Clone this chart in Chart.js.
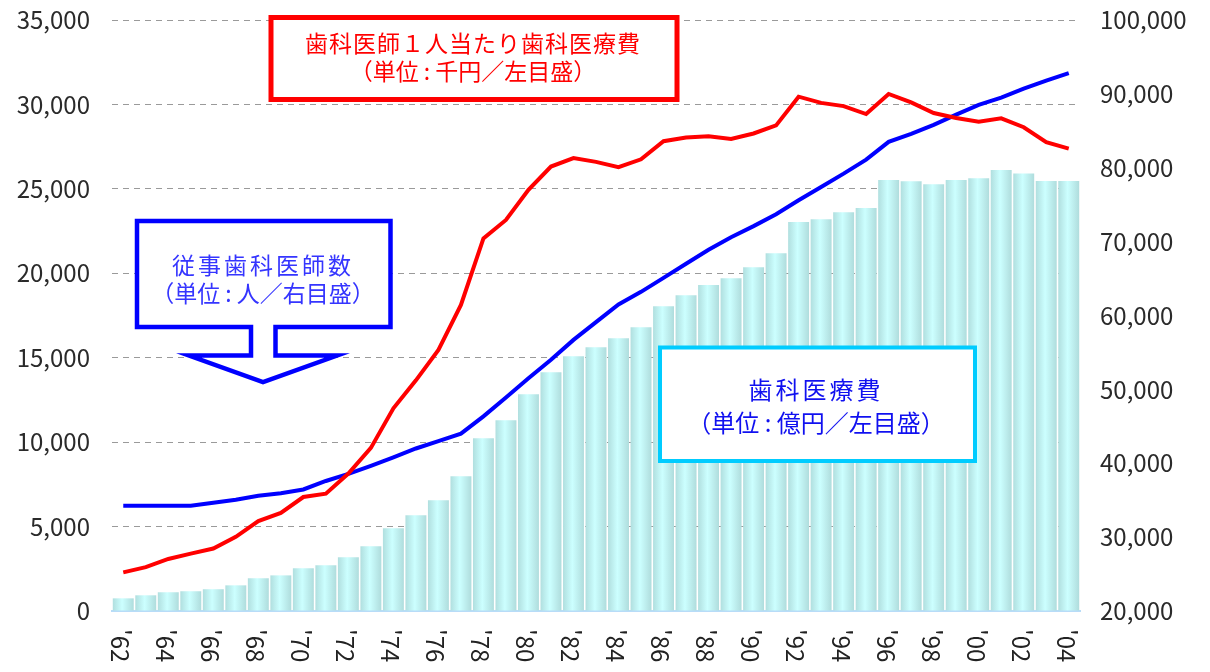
<!DOCTYPE html>
<html lang="ja">
<head>
<meta charset="utf-8">
<title>歯科医療費と従事歯科医師数</title>
<script src="https://cdn.jsdelivr.net/npm/chart.js@4.4.1/dist/chart.umd.min.js"></script>
<style>
    html, body { margin: 0; padding: 0; background: #fff; }
    #wrap { position: relative; width: 1210px; height: 672px; }
</style>
</head>
<body>
<div id="wrap"><canvas id="dentalChart"></canvas></div>
<script>
// --- Data ---
const years = [
    "'62", "'63", "'64", "'65", "'66", "'67", "'68", "'69",
    "'70", "'71", "'72", "'73", "'74", "'75", "'76", "'77", "'78", "'79",
    "'80", "'81", "'82", "'83", "'84", "'85", "'86", "'87", "'88", "'89",
    "'90", "'91", "'92", "'93", "'94", "'95", "'96", "'97", "'98", "'99",
    "'00", "'01", "'02", "'03", "'04"
];

// 歯科医療費 (億円, left axis)
const dentalCost = [
    750, 930, 1110, 1170, 1290, 1520, 1940, 2110,
    2530, 2710, 3180, 3830, 4900, 5670, 6560, 7980, 10230, 11300,
    12840, 14140, 15090, 15620, 16160, 16810, 18050, 18700, 19300, 19710,
    20360, 21190, 23030, 23200, 23620, 23860, 25520, 25450, 25280, 25520,
    25630, 26110, 25910, 25470, 25470
];

// 歯科医師1人当たり歯科医療費 (千円, left axis)
const costPerDentist = [
    2290, 2600, 3080, 3400, 3700, 4390, 5330, 5810,
    6750, 6950, 8140, 9660, 12000, 13660, 15460, 18130, 22070, 23160,
    24940, 26320, 26820, 26600, 26290, 26750, 27820, 28040, 28120, 27950,
    28280, 28760, 30460, 30090, 29900, 29430, 30620, 30120, 29490, 29200,
    28980, 29180, 28650, 27760, 27380
];

// 従事歯科医師数 (人, right axis)
const dentists = [
    34250, 34250, 34250, 34250, 34650, 35050, 35600, 35950,
    36450, 37600, 38550, 39650, 40800, 42000, 43000, 44000, 46350, 48900,
    51500, 54000, 56700, 59100, 61500, 63200, 65100, 67000, 68900, 70600,
    72100, 73700, 75600, 77400, 79200, 81100, 83500, 84600, 85800, 87200,
    88500, 89500, 90700, 91800, 92800
];

const leftTicks = [0, 5000, 10000, 15000, 20000, 25000, 30000, 35000];
const rightTicks = [20000, 30000, 40000, 50000, 60000, 70000, 80000, 90000, 100000];

const redNote = ["歯科医師１人当たり歯科医療費", "（単位 : 千円／左目盛）"];
const blueNote = ["従事歯科医師数", "（単位 : 人／右目盛）"];
const cyanNote = ["歯科医療費", "（単位 : 億円／左目盛）"];

const JP_FONT = '"Noto Sans CJK JP", "Noto Sans", sans-serif';

// --- Helpers ---
function fmt(v) {
    return v.toLocaleString("en-US");
}

// horizontal cyan sheen across each bar
function barFill(c) {
    const chart = c.chart;
    const xs = chart.scales.x;
    if (!xs || c.dataIndex === undefined || !chart.chartArea) return "#c2eeee";
    const cx = xs.getPixelForValue(c.dataIndex);
    const w = xs.width / years.length;
    const g = chart.ctx.createLinearGradient(cx - w / 2, 0, cx + w / 2, 0);
    g.addColorStop(0, "#aedcdc");
    g.addColorStop(0.45, "#ccffff");
    g.addColorStop(1, "#addada");
    return g;
}

function centerText(ctx, lines, cx, ys, color, size, spacing) {
    ctx.fillStyle = color;
    ctx.font = size + "px " + JP_FONT;
    ctx.textAlign = "center";
    ctx.textBaseline = "middle";
    lines.forEach((t, i) => {
        ctx.letterSpacing = (spacing[i] || 0) + "px";
        ctx.fillText(t, cx, ys[i]);
    });
    ctx.letterSpacing = "0px";
}

// y axes: keep a fixed width and no extra label padding above/below the plot
function fixAxis(width) {
    return (s) => {
        s.width = width;
        s.paddingTop = 0;
        s.paddingBottom = 0;
    };
}

// --- Plugin: rotated year labels + the three note boxes ---
const notesPlugin = {
    id: "notes",
    afterDraw(chart) {
        const ctx = chart.ctx;
        const xs = chart.scales.x;

        // year labels, every second one, turned clockwise
        ctx.save();
        ctx.fillStyle = "#222";
        ctx.font = "24px " + JP_FONT;
        ctx.textAlign = "left";
        ctx.textBaseline = "middle";
        years.forEach((lab, i) => {
            if (i % 2) return;
            ctx.save();
            ctx.translate(xs.getPixelForValue(i) - 3, xs.top + 18);
            ctx.rotate(Math.PI / 2);
            ctx.fillText(lab, 0, 0);
            ctx.restore();
        });
        ctx.restore();

        ctx.save();
        // red box
        ctx.fillStyle = "#fff";
        ctx.strokeStyle = "#ff0000";
        ctx.lineWidth = 5;
        ctx.fillRect(271, 17.5, 406, 82);
        ctx.strokeRect(271, 17.5, 406, 82);
        centerText(ctx, redNote, 473, [43, 71], "#ff0000", 23, [1, 0]);

        // blue call-out with arrow
        ctx.beginPath();
        ctx.moveTo(137, 221);
        ctx.lineTo(390.5, 221);
        ctx.lineTo(390.5, 327);
        ctx.lineTo(275.5, 327);
        ctx.lineTo(275.5, 355.5);
        ctx.lineTo(337, 355.5);
        ctx.lineTo(263, 382);
        ctx.lineTo(189, 355.5);
        ctx.lineTo(251, 355.5);
        ctx.lineTo(251, 327);
        ctx.lineTo(137, 327);
        ctx.closePath();
        ctx.fillStyle = "#fff";
        ctx.fill();
        ctx.strokeStyle = "#0000ff";
        ctx.lineWidth = 4.5;
        ctx.lineJoin = "miter";
        ctx.stroke();
        centerText(ctx, blueNote, 263, [265, 293], "#3535ff", 23, [3, 0]);

        // cyan box
        ctx.fillStyle = "#fff";
        ctx.strokeStyle = "#00ccff";
        ctx.lineWidth = 4;
        ctx.fillRect(660, 347.5, 315, 113.5);
        ctx.strokeRect(660, 347.5, 315, 113.5);
        centerText(ctx, cyanNote, 816, [390, 423], "#1010f0", 24, [3, 0]);
        ctx.restore();
    },
};

// --- Chart ---
const ctx = document.getElementById("dentalChart").getContext("2d");

const dentalChart = new Chart(ctx, {
    type: "bar",
    data: {
        labels: years,
        datasets: [
            {
                type: "line",
                label: "歯科医師1人当たり歯科医療費",
                data: costPerDentist,
                yAxisID: "y",
                borderColor: "#ff0000",
                borderWidth: 4,
                pointRadius: 0,
                tension: 0,
                fill: false,
                order: 1, // on top
            },
            {
                type: "line",
                label: "従事歯科医師数",
                data: dentists,
                yAxisID: "y1",
                borderColor: "#0000ff",
                borderWidth: 4,
                pointRadius: 0,
                tension: 0,
                fill: false,
                order: 2,
            },
            {
                label: "歯科医療費",
                data: dentalCost,
                yAxisID: "y",
                backgroundColor: barFill,
                borderWidth: 0,
                barPercentage: 0.93,
                categoryPercentage: 1.0,
                order: 3, // bars underneath
            },
        ],
    },
    options: {
        responsive: true,
        maintainAspectRatio: false,
        animation: false,
        layout: { padding: { top: 20, left: 0, right: 0, bottom: 0 } },
        plugins: {
            legend: { display: false },
            tooltip: { enabled: false },
            title: { display: false },
        },
        scales: {
            x: {
                ticks: { display: false },
                grid: { display: false, drawTicks: false },
                border: { display: true, color: "#b8dcf8", width: 2 },
                afterFit: (s) => { s.height = 61; },
            },
            y: {
                position: "left",
                min: 0,
                max: 35000,
                afterBuildTicks: (s) => { s.ticks = leftTicks.map((v) => ({ value: v })); },
                ticks: {
                    color: "#2a2a2a",
                    font: { family: JP_FONT, size: 24 },
                    padding: 22,
                    callback: (v) => fmt(v),
                },
                grid: {
                    drawTicks: false,
                    color: (c) => (c.tick && c.tick.value === 0 ? "rgba(0,0,0,0)" : "#9a9a9a"),
                    lineWidth: 1,
                },
                border: { display: false, dash: [6, 5] },
                afterFit: fixAxis(112),
            },
            y1: {
                position: "right",
                min: 20000,
                max: 100000,
                afterBuildTicks: (s) => { s.ticks = rightTicks.map((v) => ({ value: v })); },
                ticks: {
                    color: "#2a2a2a",
                    font: { family: JP_FONT, size: 24 },
                    padding: 20,
                    callback: (v) => fmt(v),
                },
                grid: { display: false, drawTicks: false },
                border: { display: false },
                afterFit: fixAxis(130),
            },
        },
    },
    plugins: [notesPlugin],
});
</script>
</body>
</html>
